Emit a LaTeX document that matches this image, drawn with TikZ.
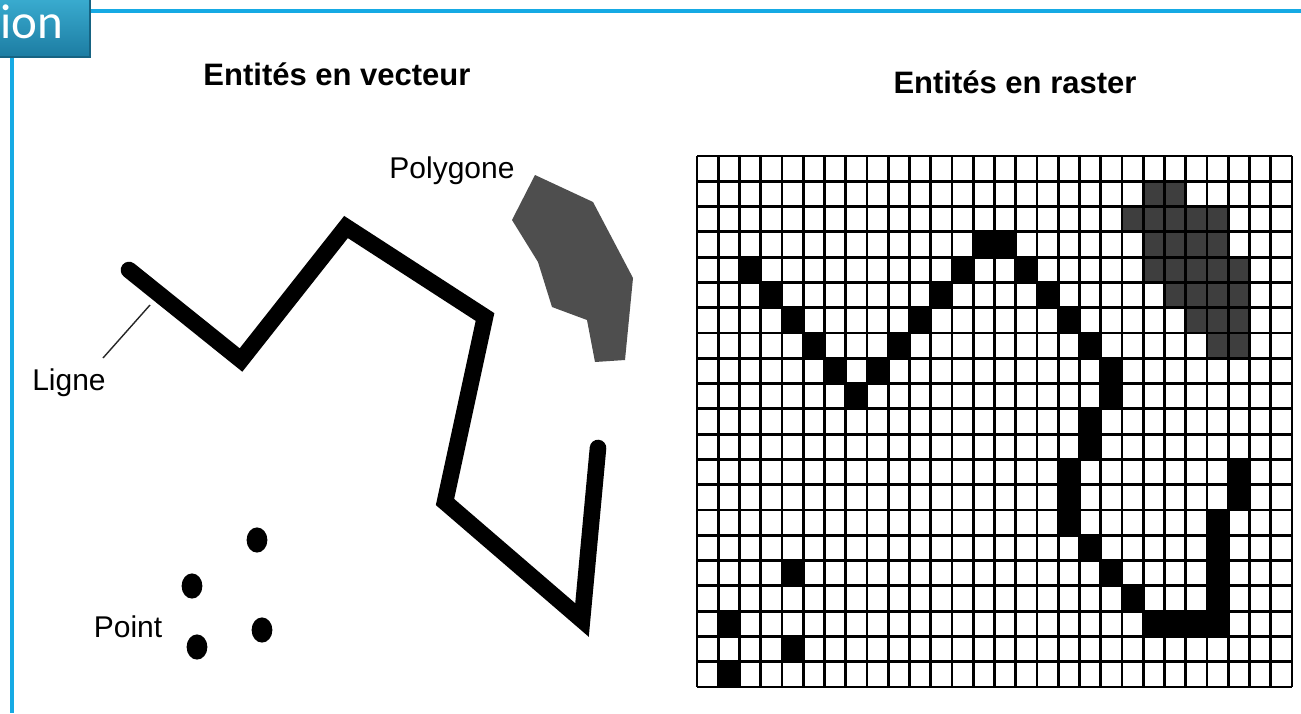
\documentclass[tikz,border=0pt]{standalone}
\usepackage{fontspec}
\setmainfont{Liberation Sans}
\newfontfamily\calib{Carlito}
\definecolor{frameblue}{RGB}{22,170,228}
\definecolor{boxtop}{RGB}{58,172,208}
\definecolor{boxbot}{RGB}{28,124,162}
\definecolor{polyg}{RGB}{78,78,78}
\definecolor{rgray}{RGB}{62,62,62}
\begin{document}
\begin{tikzpicture}[x=0.5pt,y=-0.5pt,
  ttl/.style={font=\fontsize{15.5}{18}\selectfont\bfseries, inner sep=0pt, anchor=base},
  lbl/.style={font=\fontsize{15}{18}\selectfont, inner sep=0pt, anchor=base},
  vline/.style={line width=8.3pt, line cap=round, line join=miter, black},
  leader/.style={line width=0.7pt, black!85},
  gridline/.style={line width=1.45pt, black},
  framel/.style={line width=1.6pt, frameblue},
  dotpt/.style={fill=black}
]
\useasboundingbox (0,0) rectangle (1301,713);
\fill[white] (0,0) rectangle (1301,713);

% frame
\draw[framel] (90,11) -- (1301,11);
\draw[framel] (12,57) -- (12,713);
\begin{scope}
\clip (0,0) rectangle (1301,713);
\shade[top color=boxtop, bottom color=boxbot] (-2,-2) rectangle (90,57);
\draw[boxbot!80!black, line width=0.8pt] (90,-2) -- (90,57) -- (-2,57);
\node[font=\calib\fontsize{24.5}{28}\selectfont, text=white, inner sep=0pt, anchor=base east] (hdr) at (64,38) {ion};
\end{scope}

% titles
\node[ttl] (tv) at (337,85) {Entités en vecteur};
\node[ttl] (tr) at (1015,93) {Entités en raster};

% vector side
\node[lbl] (pg) at (452,178) {Polygone};
\node[lbl] (lg) at (69,390) {Ligne};
\node[lbl] (pt) at (128,637) {Point};

\fill[polyg] (535,175) -- (593,202) -- (633,278) -- (625,360) -- (595,362) -- (587,320) -- (552,307) -- (538,262) -- (512,220) -- cycle;

\draw[vline] (129,270) -- (241,360) -- (346,227) -- (485,317) -- (445,502) -- (582,620) -- (598,448);

\coordinate (lgstart) at (103,358);
\coordinate (lgend) at (150,305);
\draw[leader] (lgstart) -- (lgend);

\fill[dotpt] (257,540) ellipse [x radius=5.2pt, y radius=6.3pt];
\fill[dotpt] (192,586) ellipse [x radius=5.2pt, y radius=6.3pt];
\fill[dotpt] (262,630) ellipse [x radius=5.2pt, y radius=6.3pt];
\fill[dotpt] (197,647) ellipse [x radius=5.2pt, y radius=6.3pt];

% raster side
\def\gx{697}\def\gy{156}\def\cw{21.25}\def\ch{25.2857}
\foreach \c/\r in {2/4,3/5,4/6,5/7,6/8,7/9,8/8,9/7,10/6,11/5,12/4,13/3,14/3,15/4,16/5,17/6,18/7,19/8,19/9,18/10,18/11,17/12,17/13,17/14,18/15,19/16,20/17,21/18,22/18,23/18,24/18,24/17,24/16,24/15,24/14,25/13,25/12,4/16,1/18,4/19,1/20}
  \fill[black] (\gx+\c*\cw,\gy+\r*\ch) rectangle ++(\cw,\ch);
\foreach \c/\r in {21/1,22/1,20/2,21/2,22/2,23/2,24/2,21/3,22/3,23/3,24/3,21/4,22/4,23/4,24/4,25/4,22/5,23/5,24/5,25/5,23/6,24/6,25/6,24/7,25/7}
  \fill[rgray] (\gx+\c*\cw,\gy+\r*\ch) rectangle ++(\cw,\ch);
\foreach \i in {0,...,28}
  \draw[gridline] (\gx+\i*\cw,\gy) -- (\gx+\i*\cw,\gy+21*\ch);
\foreach \j in {0,...,21}
  \draw[gridline] (\gx,\gy+\j*\ch) -- (\gx+28*\cw,\gy+\j*\ch);
\end{tikzpicture}
\end{document}
